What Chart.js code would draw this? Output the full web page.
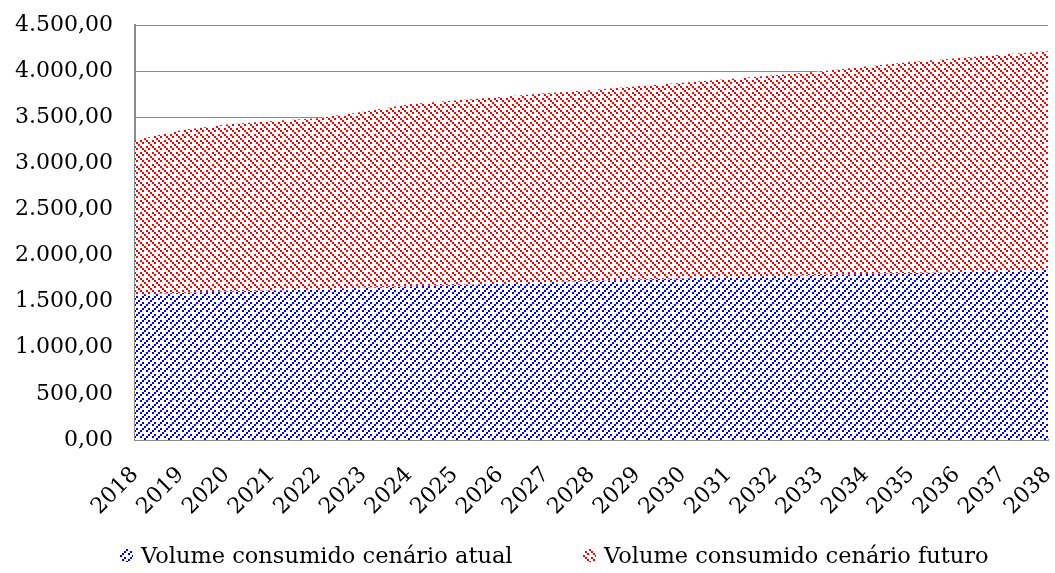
<!DOCTYPE html>
<html>
<head>
<meta charset="utf-8">
<script src="https://cdn.jsdelivr.net/npm/chart.js@4"></script>
<style>
  html, body { margin: 0; padding: 0; background: #fff; }
  #wrap { position: relative; width: 1055px; height: 573px; }
  #legend { position: absolute; left: 0; top: 540px; width: 1055px; height: 33px;
            font-family: "DejaVu Serif", serif; font-size: 22.5px; color: #000; }
  .leg-item { position: absolute; top: 0; white-space: nowrap; line-height: 30px; }
  .leg-item canvas { vertical-align: middle; margin-right: 8px; position: relative; top: -2px; }
</style>
</head>
<body>
<div id="wrap">
  <canvas id="chart" width="1055" height="573"></canvas>
  <div id="legend"></div>
</div>
<script>
// ═══════════════ DATA ═══════════════

const years = ['2018', '2019', '2020', '2021', '2022', '2023', '2024', '2025', '2026', '2027',
               '2028', '2029', '2030', '2031', '2032', '2033', '2034', '2035', '2036', '2037', '2038'];

// Volume consumido cenário atual (bottom layer)
const volumeAtual = [1575, 1595, 1610, 1620, 1630, 1650, 1665, 1680, 1695, 1710,
                     1725, 1740, 1752, 1764, 1776, 1788, 1800, 1810, 1820, 1832, 1845];

// Volume consumido cenário futuro (stacked on top)
const volumeFuturo = [1675, 1765, 1810, 1840, 1860, 1910, 1975, 2000, 2025, 2050,
                      2070, 2095, 2123, 2151, 2179, 2207, 2250, 2290, 2320, 2348, 2370];

const seriesLabels = ['Volume consumido cenário atual', 'Volume consumido cenário futuro'];
const yTicks = [0, 500, 1000, 1500, 2000, 2500, 3000, 3500, 4000, 4500];

// ═══════════════ PATTERNS ═══════════════

// dashed diagonal hatch of 2px dots on white, like the Excel pattern fills
function makePattern(color, upward) {
    const n = 12;
    const c = document.createElement('canvas');
    c.width = n; c.height = n;
    const g = c.getContext('2d');
    g.fillStyle = '#ffffff';
    g.fillRect(0, 0, n, n);
    g.fillStyle = color;
    for (let by = 0; by < n / 2; by++) {
        for (let bx = 0; bx < n / 2; bx++) {
            const line = upward ? (bx + by) % 3 : (bx - by + 6) % 3;
            const along = upward ? (bx - by + 6) % 6 : (bx + by) % 6;
            if (line === 0 && along !== 0) g.fillRect(bx * 2, by * 2, 2, 2);
        }
    }
    return g.createPattern(c, 'repeat');
}

const bluePattern = makePattern('#0000ff', true);
const redPattern = makePattern('#ff0000', false);

function fmtBR(v) {
    const s = Math.round(v).toString().replace(/\B(?=(\d{3})+(?!\d))/g, '.');
    return s + ',00';
}

// ═══════════════ CHART ═══════════════

const tickFont = { family: '"DejaVu Serif", serif', size: 22 };

new Chart(document.getElementById('chart').getContext('2d'), {
    type: 'line',
    data: {
        labels: years,
        datasets: [
            {
                label: seriesLabels[0],
                data: volumeAtual,
                backgroundColor: bluePattern,
                borderWidth: 0,
                pointRadius: 0,
                fill: 'origin',
                tension: 0
            },
            {
                label: seriesLabels[1],
                data: volumeFuturo,
                backgroundColor: redPattern,
                borderWidth: 0,
                pointRadius: 0,
                fill: '-1',
                tension: 0
            }
        ]
    },
    options: {
        responsive: false,
        animation: false,
        layout: { padding: { top: 25, right: 7, bottom: 45, left: 0 } },
        plugins: { legend: { display: false }, tooltip: { enabled: false } },
        scales: {
            x: {
                offset: false,
                grid: { drawOnChartArea: false, drawTicks: false },
                border: { display: true, color: '#8c8c8c', width: 2 },
                ticks: { color: '#000', font: tickFont, maxRotation: 45, minRotation: 45,
                         autoSkip: false, padding: 22 },
                afterFit: s => { s.height = 88; s.paddingRight = 0; s.paddingLeft = 0; }
            },
            y: {
                stacked: true,
                min: 0,
                max: 4500,
                afterBuildTicks: s => { s.ticks = yTicks.map(v => ({ value: v })); },
                grid: { color: '#8c8c8c', lineWidth: 1, drawTicks: false },
                border: { display: true, color: '#8c8c8c', width: 2 },
                ticks: { color: '#000', font: tickFont, padding: 22, callback: v => fmtBR(v) },
                afterFit: s => { s.width = 135; s.paddingTop = 0; s.paddingBottom = 0; }
            }
        }
    }
});

// ═══════════════ LEGEND ═══════════════

const legendPos = [120, 583];
const legendFill = [bluePattern, redPattern];
const legendEl = document.getElementById('legend');
seriesLabels.forEach((label, i) => {
    const item = document.createElement('div');
    item.className = 'leg-item';
    item.style.left = legendPos[i] + 'px';
    const box = document.createElement('canvas');
    box.width = 13; box.height = 13;
    const bctx = box.getContext('2d');
    bctx.fillStyle = legendFill[i];
    bctx.fillRect(0, 0, 13, 13);
    item.appendChild(box);
    item.appendChild(document.createTextNode(label));
    legendEl.appendChild(item);
});
</script>
</body>
</html>
